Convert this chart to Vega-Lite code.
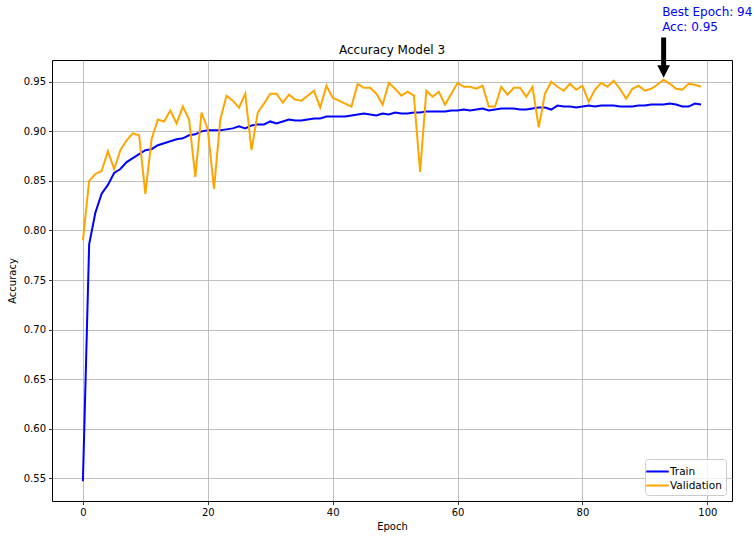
{
  "$schema": "https://vega.github.io/schema/vega-lite/v6.json",
  "width": 680,
  "height": 441,
  "autosize": {"type": "none"},
  "padding": {"left": 52, "top": 60, "right": 24, "bottom": 35},
  "background": "white",
  "title": {"text": "Accuracy Model 3", "frame": "group", "font": "DejaVu Sans", "fontSize": 12, "fontWeight": "normal", "color": "#000000", "baseline": "alphabetic", "offset": -60.5},
  "config": {
    "view": {"stroke": "#000000", "strokeWidth": 1},
    "axis": {
      "labelFont": "DejaVu Sans", "labelFontSize": 10, "labelColor": "#000000",
      "titleFont": "DejaVu Sans", "titleFontSize": 10, "titleFontWeight": "normal", "titleColor": "#000000",
      "domain": false, "tickColor": "#000000", "tickSize": 3.5, "tickWidth": 0.8, "labelPadding": 3,
      "gridColor": "#b0b0b0", "gridWidth": 0.8, "gridOpacity": 1
    },
    "legend": {
      "orient": "bottom-right", "offset": 6, "padding": 4,
      "strokeColor": "#cccccc", "fillColor": "rgba(255,255,255,0.8)", "cornerRadius": 3,
      "symbolType": "M-1.5,0L1.5,0", "symbolSize": 225, "symbolStrokeWidth": 2,
      "labelFont": "DejaVu Sans", "labelFontSize": 10.5, "labelColor": "#000000", "rowPadding": 0
    }
  },
  "datasets": {
    "history": [
      {"epoch": 0, "Train": 0.547, "Validation": 0.790},
      {"epoch": 1, "Train": 0.786, "Validation": 0.850},
      {"epoch": 2, "Train": 0.818, "Validation": 0.857},
      {"epoch": 3, "Train": 0.837, "Validation": 0.860},
      {"epoch": 4, "Train": 0.846, "Validation": 0.880},
      {"epoch": 5, "Train": 0.858, "Validation": 0.862},
      {"epoch": 6, "Train": 0.862, "Validation": 0.881},
      {"epoch": 7, "Train": 0.869, "Validation": 0.891},
      {"epoch": 8, "Train": 0.873, "Validation": 0.898},
      {"epoch": 9, "Train": 0.877, "Validation": 0.896},
      {"epoch": 10, "Train": 0.881, "Validation": 0.837},
      {"epoch": 11, "Train": 0.882, "Validation": 0.892},
      {"epoch": 12, "Train": 0.886, "Validation": 0.912},
      {"epoch": 13, "Train": 0.888, "Validation": 0.910},
      {"epoch": 14, "Train": 0.890, "Validation": 0.921},
      {"epoch": 15, "Train": 0.892, "Validation": 0.908},
      {"epoch": 16, "Train": 0.893, "Validation": 0.925},
      {"epoch": 17, "Train": 0.896, "Validation": 0.912},
      {"epoch": 18, "Train": 0.897, "Validation": 0.854},
      {"epoch": 19, "Train": 0.900, "Validation": 0.919},
      {"epoch": 20, "Train": 0.901, "Validation": 0.902},
      {"epoch": 21, "Train": 0.901, "Validation": 0.842},
      {"epoch": 22, "Train": 0.901, "Validation": 0.912},
      {"epoch": 23, "Train": 0.902, "Validation": 0.936},
      {"epoch": 24, "Train": 0.903, "Validation": 0.931},
      {"epoch": 25, "Train": 0.905, "Validation": 0.924},
      {"epoch": 26, "Train": 0.903, "Validation": 0.938},
      {"epoch": 27, "Train": 0.906, "Validation": 0.881},
      {"epoch": 28, "Train": 0.907, "Validation": 0.919},
      {"epoch": 29, "Train": 0.907, "Validation": 0.928},
      {"epoch": 30, "Train": 0.910, "Validation": 0.938},
      {"epoch": 31, "Train": 0.908, "Validation": 0.938},
      {"epoch": 32, "Train": 0.910, "Validation": 0.929},
      {"epoch": 33, "Train": 0.912, "Validation": 0.937},
      {"epoch": 34, "Train": 0.911, "Validation": 0.932},
      {"epoch": 35, "Train": 0.911, "Validation": 0.931},
      {"epoch": 36, "Train": 0.912, "Validation": 0.936},
      {"epoch": 37, "Train": 0.913, "Validation": 0.941},
      {"epoch": 38, "Train": 0.913, "Validation": 0.924},
      {"epoch": 39, "Train": 0.915, "Validation": 0.946},
      {"epoch": 40, "Train": 0.915, "Validation": 0.934},
      {"epoch": 41, "Train": 0.915, "Validation": 0.931},
      {"epoch": 42, "Train": 0.915, "Validation": 0.928},
      {"epoch": 43, "Train": 0.916, "Validation": 0.925},
      {"epoch": 44, "Train": 0.917, "Validation": 0.948},
      {"epoch": 45, "Train": 0.918, "Validation": 0.944},
      {"epoch": 46, "Train": 0.917, "Validation": 0.944},
      {"epoch": 47, "Train": 0.916, "Validation": 0.938},
      {"epoch": 48, "Train": 0.918, "Validation": 0.927},
      {"epoch": 49, "Train": 0.917, "Validation": 0.949},
      {"epoch": 50, "Train": 0.919, "Validation": 0.943},
      {"epoch": 51, "Train": 0.918, "Validation": 0.936},
      {"epoch": 52, "Train": 0.918, "Validation": 0.940},
      {"epoch": 53, "Train": 0.919, "Validation": 0.936},
      {"epoch": 54, "Train": 0.919, "Validation": 0.859},
      {"epoch": 55, "Train": 0.920, "Validation": 0.941},
      {"epoch": 56, "Train": 0.920, "Validation": 0.935},
      {"epoch": 57, "Train": 0.920, "Validation": 0.940},
      {"epoch": 58, "Train": 0.920, "Validation": 0.927},
      {"epoch": 59, "Train": 0.921, "Validation": 0.938},
      {"epoch": 60, "Train": 0.921, "Validation": 0.949},
      {"epoch": 61, "Train": 0.922, "Validation": 0.945},
      {"epoch": 62, "Train": 0.921, "Validation": 0.945},
      {"epoch": 63, "Train": 0.922, "Validation": 0.943},
      {"epoch": 64, "Train": 0.923, "Validation": 0.946},
      {"epoch": 65, "Train": 0.921, "Validation": 0.925},
      {"epoch": 66, "Train": 0.922, "Validation": 0.925},
      {"epoch": 67, "Train": 0.923, "Validation": 0.945},
      {"epoch": 68, "Train": 0.923, "Validation": 0.937},
      {"epoch": 69, "Train": 0.923, "Validation": 0.944},
      {"epoch": 70, "Train": 0.922, "Validation": 0.944},
      {"epoch": 71, "Train": 0.922, "Validation": 0.935},
      {"epoch": 72, "Train": 0.923, "Validation": 0.945},
      {"epoch": 73, "Train": 0.924, "Validation": 0.904},
      {"epoch": 74, "Train": 0.924, "Validation": 0.938},
      {"epoch": 75, "Train": 0.922, "Validation": 0.950},
      {"epoch": 76, "Train": 0.926, "Validation": 0.945},
      {"epoch": 77, "Train": 0.925, "Validation": 0.941},
      {"epoch": 78, "Train": 0.925, "Validation": 0.948},
      {"epoch": 79, "Train": 0.924, "Validation": 0.942},
      {"epoch": 80, "Train": 0.925, "Validation": 0.946},
      {"epoch": 81, "Train": 0.926, "Validation": 0.930},
      {"epoch": 82, "Train": 0.925, "Validation": 0.942},
      {"epoch": 83, "Train": 0.926, "Validation": 0.949},
      {"epoch": 84, "Train": 0.926, "Validation": 0.945},
      {"epoch": 85, "Train": 0.926, "Validation": 0.951},
      {"epoch": 86, "Train": 0.925, "Validation": 0.943},
      {"epoch": 87, "Train": 0.925, "Validation": 0.933},
      {"epoch": 88, "Train": 0.925, "Validation": 0.943},
      {"epoch": 89, "Train": 0.926, "Validation": 0.946},
      {"epoch": 90, "Train": 0.926, "Validation": 0.941},
      {"epoch": 91, "Train": 0.927, "Validation": 0.943},
      {"epoch": 92, "Train": 0.927, "Validation": 0.947},
      {"epoch": 93, "Train": 0.927, "Validation": 0.952},
      {"epoch": 94, "Train": 0.928, "Validation": 0.948},
      {"epoch": 95, "Train": 0.927, "Validation": 0.943},
      {"epoch": 96, "Train": 0.925, "Validation": 0.942},
      {"epoch": 97, "Train": 0.925, "Validation": 0.948},
      {"epoch": 98, "Train": 0.928, "Validation": 0.947},
      {"epoch": 99, "Train": 0.927, "Validation": 0.945}
    ],
    "best": [
      {"epoch": 93, "acc": 0.952, "label": ["Best Epoch: 94", "Acc: 0.95"]}
    ]
  },
  "layer": [
    {
      "data": {"name": "history"},
      "transform": [{"fold": ["Train", "Validation"], "as": ["series", "value"]}],
      "mark": {"type": "line", "strokeWidth": 2},
      "encoding": {
        "x": {"field": "epoch", "type": "quantitative", "title": "Epoch",
              "scale": {"domain": [-4.95, 103.95], "nice": false, "zero": false},
              "axis": {"values": [0, 20, 40, 60, 80, 100], "titlePadding": 4}},
        "y": {"field": "value", "type": "quantitative", "title": "Accuracy",
              "scale": {"domain": [0.527, 0.972], "nice": false, "zero": false},
              "axis": {"values": [0.55, 0.6, 0.65, 0.7, 0.75, 0.8, 0.85, 0.9, 0.95], "format": ".2f", "titlePadding": 6}},
        "color": {"field": "series", "type": "nominal", "title": null,
                  "scale": {"domain": ["Train", "Validation"], "range": ["#0000ff", "#ffa500"]}}
      }
    },
    {
      "data": {"name": "best"},
      "mark": {"type": "rule", "color": "#000000", "strokeWidth": 5},
      "encoding": {
        "x": {"field": "epoch", "type": "quantitative"},
        "y": {"datum": 0.9947},
        "y2": {"datum": 0.963}
      }
    },
    {
      "data": {"name": "best"},
      "mark": {"type": "point", "shape": "M-1,-1L1,-1L0,1Z", "filled": true, "color": "#000000", "opacity": 1, "size": 160},
      "encoding": {
        "x": {"field": "epoch", "type": "quantitative"},
        "y": {"datum": 0.9604}
      }
    },
    {
      "data": {"name": "best"},
      "mark": {"type": "text", "align": "left", "baseline": "alphabetic", "dx": -1.5, "font": "DejaVu Sans", "fontSize": 12, "lineHeight": 15, "color": "#0000ff"},
      "encoding": {
        "x": {"field": "epoch", "type": "quantitative"},
        "y": {"datum": 1.0169},
        "text": {"field": "label"}
      }
    }
  ]
}
